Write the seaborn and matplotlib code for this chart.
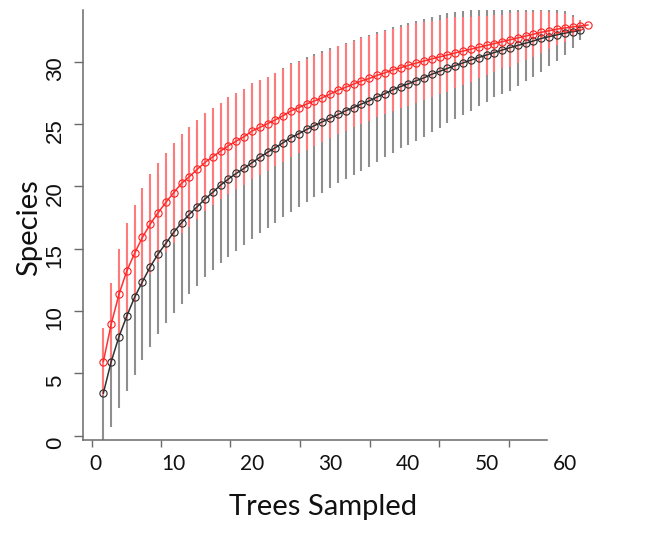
import numpy as np
import pandas as pd
import matplotlib
matplotlib.use("Agg")
import matplotlib.pyplot as plt
import matplotlib.transforms as mtransforms
import seaborn as sns

# ---------------- data ----------------
trees_black = list(range(1, 63))
trees_red = list(range(1, 64))

black_mean = [3.40, 5.93, 7.94, 9.60, 11.10, 12.35, 13.55, 14.57, 15.43, 16.31,
              17.08, 17.75, 18.36, 18.98, 19.52, 20.10, 20.59, 21.04, 21.44, 21.89,
              22.32, 22.73, 23.10, 23.50, 23.91, 24.22, 24.56, 24.87, 25.17, 25.46,
              25.76, 26.06, 26.32, 26.60, 26.85, 27.16, 27.43, 27.73, 28.00, 28.22,
              28.47, 28.70, 28.99, 29.22, 29.46, 29.68, 29.90, 30.12, 30.33, 30.53,
              30.73, 30.93, 31.12, 31.30, 31.48, 31.66, 31.86, 32.00, 32.15, 32.28,
              32.40, 32.50]
black_ci = [4.27, 5.20, 5.70, 6.00, 6.20, 6.30, 6.40, 6.44, 6.37, 6.45,
            6.48, 6.39, 6.33, 6.28, 6.23, 6.28, 6.24, 6.20, 6.15, 6.12,
            6.09, 6.05, 6.02, 5.99, 5.95, 5.84, 5.79, 5.75, 5.68, 5.62,
            5.52, 5.47, 5.42, 5.35, 5.28, 5.19, 5.11, 5.03, 4.95, 4.91,
            4.81, 4.72, 4.61, 4.52, 4.41, 4.28, 4.18, 4.06, 3.89, 3.75,
            3.59, 3.55, 3.45, 3.26, 3.04, 2.87, 2.67, 2.35, 2.10, 1.75,
            1.33, 0.77]

red_mean = [5.93, 8.93, 11.34, 13.21, 14.63, 15.91, 16.98, 17.88, 18.72, 19.49,
            20.24, 20.77, 21.36, 21.92, 22.37, 22.83, 23.26, 23.63, 23.98, 24.43,
            24.72, 25.02, 25.33, 25.67, 26.05, 26.32, 26.60, 26.85, 27.10, 27.40,
            27.70, 27.95, 28.20, 28.45, 28.65, 28.90, 29.10, 29.33, 29.50, 29.70,
            29.88, 30.05, 30.22, 30.38, 30.53, 30.70, 30.85, 31.00, 31.15, 31.30,
            31.45, 31.60, 31.75, 31.90, 32.05, 32.20, 32.35, 32.48, 32.60, 32.70,
            32.78, 32.86, 32.94]
red_ci = [2.68, 3.29, 3.61, 3.82, 3.87, 3.93, 3.98, 3.96, 3.98, 4.00,
          3.95, 4.00, 3.96, 3.93, 3.88, 3.87, 3.88, 3.87, 3.85, 3.83,
          3.80, 3.77, 3.74, 3.72, 3.72, 3.68, 3.65, 3.62, 3.58, 3.55,
          3.52, 3.48, 3.45, 3.42, 3.38, 3.35, 3.32, 3.30, 3.25, 3.26,
          3.22, 3.13, 3.03, 2.98, 2.94, 2.84, 2.73, 2.61, 2.49, 2.37,
          2.26, 2.14, 2.16, 2.04, 1.92, 1.81, 1.69, 1.50, 1.27, 1.10,
          0.78, 0.46, 0.00]

x_ticks = [0, 10, 20, 30, 40, 50, 60]
x_ticklabels = ["0", "10", "20", "30", "40", "50", "60"]
y_ticks = [0, 5, 10, 15, 20, 25, 30]
y_ticklabels = ["0", "5", "10", "15", "20", "25", "30"]
x_title = "Trees Sampled"
y_title = "Species"

# ---------------- figure ----------------
sns.set_style("ticks")
plt.rcParams["font.family"] = ["Lato", "DejaVu Sans"]

fig = plt.figure(figsize=(6.53, 5.38), dpi=100)
ax = fig.add_axes([83 / 653, 98 / 538, 517 / 653, 430 / 538])

df_black = pd.DataFrame({"trees": trees_black, "species": black_mean})
df_red = pd.DataFrame({"trees": trees_red, "species": red_mean})

bm = np.array(black_mean); bc = np.array(black_ci)
rm = np.array(red_mean); rc = np.array(red_ci)

ax.vlines(trees_black, bm - bc, bm + bc, colors="#8f8f8f", linewidth=1.5, zorder=1)
ax.vlines(trees_red, rm - rc, rm + rc, colors="#ff7a7a", linewidth=1.5, zorder=2)

sns.lineplot(data=df_black, x="trees", y="species", ax=ax, color="#333333",
             linewidth=1.1, marker="o", markersize=5.2, markerfacecolor="none",
             markeredgecolor="#2a2a2a", markeredgewidth=0.8, zorder=3)
sns.lineplot(data=df_red, x="trees", y="species", ax=ax, color="#ff3030",
             linewidth=1.1, marker="o", markersize=5.2, markerfacecolor="none",
             markeredgecolor="#ff2020", markeredgewidth=0.8, zorder=4)

ax.set_xlim(-1.60, 64.51)
ax.set_ylim(-0.345, 34.14)

# spines
for s in ["top", "right"]:
    ax.spines[s].set_visible(False)
for s in ["left", "bottom"]:
    ax.spines[s].set_color("#6a6a6a")
    ax.spines[s].set_linewidth(1.1)
ax.spines["bottom"].set_bounds(-1.60, 57.74)

# y ticks
ax.set_yticks(y_ticks)
ax.set_yticklabels(y_ticklabels, rotation=90, va="center",
                   fontfamily="Liberation Sans", fontsize=16)
ax.tick_params(axis="y", length=6.5, width=1.0, color="#6a6a6a", pad=6, labelcolor="#111111")
off = mtransforms.ScaledTranslation(0, -7 / 100, fig.dpi_scale_trans)
for lab in ax.get_yticklabels():
    lab.set_transform(lab.get_transform() + off)

# x ticks: labels at data positions, short marks as in the reference
ax.set_xticks(x_ticks)
ax.set_xticklabels(x_ticklabels, fontsize=15)
ax.tick_params(axis="x", which="major", length=0, pad=10, labelcolor="#111111")
ax.set_xticks([-0.49, 8.37, 17.26, 26.15, 35.04, 43.93, 52.82], minor=True)
ax.tick_params(axis="x", which="minor", length=5, width=1.0, color="#6a6a6a")

ax.set_xlabel(x_title, fontsize=21, color="#111111")
ax.xaxis.set_label_coords((323 - 83) / 517, -0.125)
ax.set_ylabel(y_title, fontsize=21, color="#111111")
ax.yaxis.set_label_coords(-0.08, (440 - 228) / 430)

fig.savefig("out.png", dpi=100)
